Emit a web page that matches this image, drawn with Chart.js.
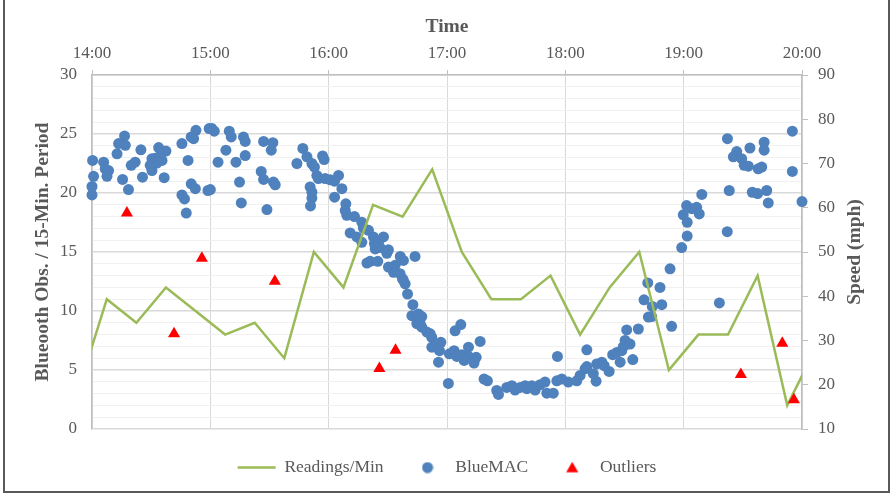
<!DOCTYPE html>
<html>
<head>
<meta charset="utf-8">
<script src="https://cdn.jsdelivr.net/npm/chart.js@4.4.1/dist/chart.umd.min.js"></script>
<style>
  html, body { margin: 0; padding: 0; background: #fff; }
  #wrap { position: relative; width: 894px; height: 494px; overflow: hidden; }
  #frame { position: absolute; left: 3px; top: -10px; width: 883px; height: 501px; border: 2px solid #595959; border-top: none; pointer-events: none; }
</style>
</head>
<body>
<div id="wrap">
  <canvas id="chart" width="894" height="494"></canvas>
  <div id="frame"></div>
</div>
<script>
// x values are minutes after 14:00
const hourLabels = ['14:00', '15:00', '16:00', '17:00', '18:00', '19:00', '20:00'];

const readingTimes = [-7.5, 7.5, 22.5, 37.5, 52.5, 67.5, 82.5, 97.5, 112.5, 127.5, 142.5, 157.5, 172.5,
    187.5, 202.5, 217.5, 232.5, 247.5, 262.5, 277.5, 292.5, 307.5, 322.5, 337.5, 352.5, 367.5];
const readingsPerMin = [3, 11, 9, 12, 10, 8, 9, 6, 15, 12, 19, 18, 22,
    15, 11, 11, 13, 8, 12, 15, 5, 8, 8, 13, 2, 7];

const blueMacTimes = [
    0.3, 0.8, 0, 0, 5.9, 6.7, 8.4, 7.6, 12.7, 13.5, 16.5, 16.9, 15.5, 18.5, 19.9, 21.9, 24.8, 25.6, 33.8, 37.5,
    30.4, 32.1, 34.6, 29.5, 32.9, 30.4, 35.5, 36.6, 45.6, 50.3, 52.7, 51.5, 59.4, 48.7, 45.6, 46.9, 47.8, 50.3, 52.4, 58.8,
    60.8, 62.0, 69.6, 70.6, 76.8, 77.7, 67.9, 63.9, 73.0, 77.7, 60.0, 74.8, 75.7, 87.0, 91.7, 90.9, 85.8, 87.0, 92.0, 92.9,
    88.7, 106.9, 103.9, 109.0, 111.5, 112.8, 116.9, 117.7, 114.0, 114.8, 118.2, 110.6, 111.5, 111.5, 110.8,
    120.8, 123.0, 125.0, 126.7, 123.0, 128.7, 128.4, 129.2, 133.1, 136.8, 137.6, 140.2, 130.9, 134.3, 136.8, 142.7,
    147.8, 143.2, 145.2, 143.6, 146.1, 149.5, 150.3, 139.4, 141.0, 144.9, 150.3, 153.7, 156.3, 157.9, 163.8, 152.9,
    156.2, 157.4, 158.8, 157.9, 160.0, 162.7, 162.2, 165.5, 167.2, 164.7, 166.4, 167.2, 169.8, 171.5, 172.3, 172.3,
    174.0, 176.9, 176.2, 175.7, 180.7, 184.1, 187.0, 181.2, 183.6, 185.0, 187.5, 188.7, 190.9, 190.9, 194.8, 193.7,
    196.8, 198.8, 200.5, 205.2, 206.1, 210.3, 212.9, 214.5, 217.1, 219.6, 220.5, 223.0, 224.7, 227.2, 229.7, 230.6,
    233.9, 235.7, 238.2, 236.0, 241.5, 245.8, 247.5, 250.0, 250.9, 250.9, 254.2, 255.6, 255.9, 258.5, 259.7, 262.2,
    264.0, 267.8, 266.1, 268.6, 269.4, 271.1, 270.3, 272.8, 274.2, 271.1, 277.0, 279.9, 282.1, 283.8, 281.8, 284.1,
    288.0, 288.9, 293.1, 293.9, 299.0, 318.1, 301.8, 299.8, 301.5, 301.8, 304.1, 306.6, 307.9, 309.2,
    322.2, 323.1, 322.1, 326.9, 325.2, 329.4, 330.7, 332.8, 333.6, 337.8, 339.6, 340.8, 340.8, 334.8, 337.5, 342.1,
    342.9, 355.1, 355.1, 360.0
];
const blueMacSpeeds = [
    70.7, 67.1, 64.8, 62.9, 70.3, 68.8, 68.4, 67.1, 72.2, 74.5, 76.2, 74.1, 66.4, 64.1, 69.6, 70.3, 73.1, 66.9, 73.6, 72.8,
    71.1, 71.2, 71.8, 69.6, 70.1, 68.4, 70.7, 66.8, 74.5, 76.0, 77.5, 75.6, 77.9, 70.7, 62.9, 62.0, 58.8, 65.4, 64.3, 63.9,
    77.9, 77.3, 77.3, 76.0, 76.0, 75.0, 73.0, 70.3, 70.3, 71.8, 64.1, 65.8, 61.1, 75.0, 74.7, 73.0, 68.2, 66.4, 65.8, 65.2,
    59.6, 73.4, 70.0, 71.5, 70.0, 69.2, 71.7, 70.9, 67.3, 66.6, 66.6, 64.7, 63.5, 62.2, 60.4,
    66.3, 66.0, 67.3, 64.3, 62.4, 60.9, 59.4, 58.3, 58.0, 56.7, 55.4, 54.9, 54.3, 53.4, 52.2, 53.4,
    53.4, 51.9, 52.2, 50.7, 51.0, 49.7, 50.5, 47.5, 47.9, 47.9, 46.6, 47.0, 49.0, 48.1, 49.0, 45.4,
    45.1, 44.0, 42.8, 43.6, 40.5, 38.1, 35.6, 36.0, 35.4, 33.8, 33.8, 33.0, 31.9, 31.5, 30.7, 28.5,
    28.6, 29.6, 27.7, 25.1, 20.3, 32.2, 33.6, 27.0, 27.7, 26.4, 26.8, 25.5, 28.5, 26.4, 26.2, 24.9,
    29.8, 21.3, 20.9, 18.7, 17.8, 19.4, 19.8, 18.8, 19.4, 19.8, 19.1, 19.8, 18.8, 20.0, 20.6, 18.1,
    18.1, 20.9, 21.3, 26.4, 20.6, 20.9, 22.1, 23.6, 24.1, 27.9, 22.5, 20.8, 24.7, 25.1, 24.3, 23.0,
    26.8, 25.1, 27.3, 27.7, 28.6, 29.2, 30.0, 29.2, 25.7, 32.4, 32.6, 39.2, 35.3, 35.4, 43.0, 37.7,
    42.0, 38.1, 46.2, 33.2, 51.0, 38.5, 53.6, 58.4, 60.5, 56.7, 59.8, 60.1, 58.6, 63.0,
    75.6, 63.9, 54.6, 72.7, 71.5, 71.1, 69.6, 69.4, 73.5, 68.8, 69.2, 74.8, 73.0, 63.5, 63.2, 63.9,
    61.1, 77.3, 68.2, 61.4
];

const outlierTimes = [17.7, 41.6, 55.7, 92.7, 145.7, 153.9, 329.0, 350.0, 355.9];
const outlierSpeeds = [58.8, 31.5, 48.6, 43.4, 23.7, 27.8, 22.3, 29.4, 16.6];

const FONT = "'Liberation Serif', 'Times New Roman', serif";
const GREY = '#595959';
const GREEN = '#9bbb59';
const BLUE = '#4f81bd';
const RED = '#ff0000';

function pairs(xs, ys) {
    return xs.map((x, i) => ({ x: x, y: ys[i] }));
}

// small legend icons drawn with Chart.js's own point renderer
function makeIcon(w, h, color, style, radius, cy) {
    const c = document.createElement('canvas');
    c.width = w;
    c.height = h;
    const g = c.getContext('2d');
    g.fillStyle = color;
    Chart.helpers.drawPoint(g, { pointStyle: style, radius: radius, borderWidth: 0, rotation: 0 }, w / 2, cy);
    return c;
}
const dotIcon = makeIcon(12, 12, BLUE, 'circle', 5.5, 6);
const triIcon = makeIcon(14, 12, RED, 'triangle', 7, 7.25);

const rightTitle = {
    id: 'rightTitle',
    afterDraw(chart) {
        const s = chart.scales.y1;
        const g = chart.ctx;
        g.save();
        g.translate(s.right - 39, (s.top + s.bottom) / 2);
        g.rotate(-Math.PI / 2);
        g.font = 'bold 19.5px ' + FONT;
        g.fillStyle = GREY;
        g.textAlign = 'center';
        g.textBaseline = 'middle';
        g.fillText('Speed (mph)', 0, 0);
        g.restore();
    }
};

const tickFont = { family: FONT, size: 17 };
const titleFont = { family: FONT, size: 19.5, weight: 'bold' };

new Chart(document.getElementById('chart'), {
    type: 'scatter',
    data: {
        datasets: [{
            label: 'Readings/Min',
            data: pairs(readingTimes, readingsPerMin),
            showLine: true,
            borderColor: GREEN,
            backgroundColor: GREEN,
            borderWidth: 2.5,
            pointRadius: 0,
            pointStyle: 'line',
            yAxisID: 'y',
            order: 1,
            clip: 0
        }, {
            label: 'BlueMAC',
            data: pairs(blueMacTimes, blueMacSpeeds),
            backgroundColor: BLUE,
            borderWidth: 0,
            pointBorderWidth: 0,
            pointRadius: 5.5,
            yAxisID: 'y1',
            order: 2,
            clip: false
        }, {
            label: 'Outliers',
            data: pairs(outlierTimes, outlierSpeeds),
            backgroundColor: RED,
            borderWidth: 0,
            pointBorderWidth: 0,
            pointStyle: 'triangle',
            pointRadius: 7,
            yAxisID: 'y1',
            order: 0,
            clip: false
        }]
    },
    options: {
        responsive: false,
        animation: false,
        events: [],
        layout: { padding: { top: 0, left: 0, right: 0, bottom: 7.7 } },
        plugins: {
            tooltip: { enabled: false },
            legend: {
                position: 'bottom',
                // empty title only nudges the legend row down a little
                title: { display: true, text: '', font: { size: 4 }, padding: 0 },
                labels: {
                    usePointStyle: true,
                    pointStyleWidth: 38,
                    padding: 25,
                    color: GREY,
                    font: { family: FONT, size: 17.5 },
                    sort: (a, b) => a.datasetIndex - b.datasetIndex,
                    generateLabels: (chart) => {
                        const items = Chart.defaults.plugins.legend.labels.generateLabels(chart);
                        items.forEach((item) => {
                            if (item.text === 'BlueMAC') item.pointStyle = dotIcon;
                            if (item.text === 'Outliers') item.pointStyle = triIcon;
                        });
                        return items;
                    }
                }
            }
        },
        scales: {
            x: {
                type: 'linear',
                position: 'top',
                min: 0,
                max: 360,
                afterFit: (s) => { s.height = 75; },
                ticks: {
                    stepSize: 60,
                    padding: 6.5,
                    maxRotation: 0,
                    color: GREY,
                    font: tickFont,
                    callback: (v) => hourLabels[v / 60]
                },
                grid: { color: '#d9d9d9', lineWidth: 1, tickLength: 5, tickColor: '#bfbfbf' },
                border: { color: '#bfbfbf', width: 1.5 },
                title: { display: true, text: 'Time', color: GREY, font: titleFont, padding: { top: 15, bottom: 0 } }
            },
            y: {
                position: 'left',
                min: 0,
                max: 30,
                afterFit: (s) => { s.width = 92; },
                ticks: {
                    stepSize: 1,
                    autoSkip: false,
                    padding: 15,
                    color: GREY,
                    font: tickFont,
                    callback: (v) => (v % 5 === 0 ? v : '')
                },
                grid: {
                    drawTicks: false,
                    color: (c) => (c.tick && c.tick.value % 5 === 0 ? '#d9d9d9' : '#f0f0f0'),
                    lineWidth: (c) => (c.tick && c.tick.value % 5 === 0 ? 1.5 : 1)
                },
                border: { color: '#bfbfbf', width: 1.5 },
                title: { display: true, text: 'Blueooth Obs. / 15-Min. Period', color: GREY, font: titleFont, padding: { top: 31, bottom: 0 } }
            },
            y1: {
                position: 'right',
                min: 10,
                max: 90,
                afterFit: (s) => { s.width = 92; },
                ticks: { stepSize: 10, padding: 10, color: GREY, font: tickFont },
                grid: { drawOnChartArea: false, tickLength: 6, color: '#bfbfbf' },
                border: { color: '#bfbfbf', width: 1.5 }
            }
        }
    },
    plugins: [rightTitle]
});
</script>
</body>
</html>
